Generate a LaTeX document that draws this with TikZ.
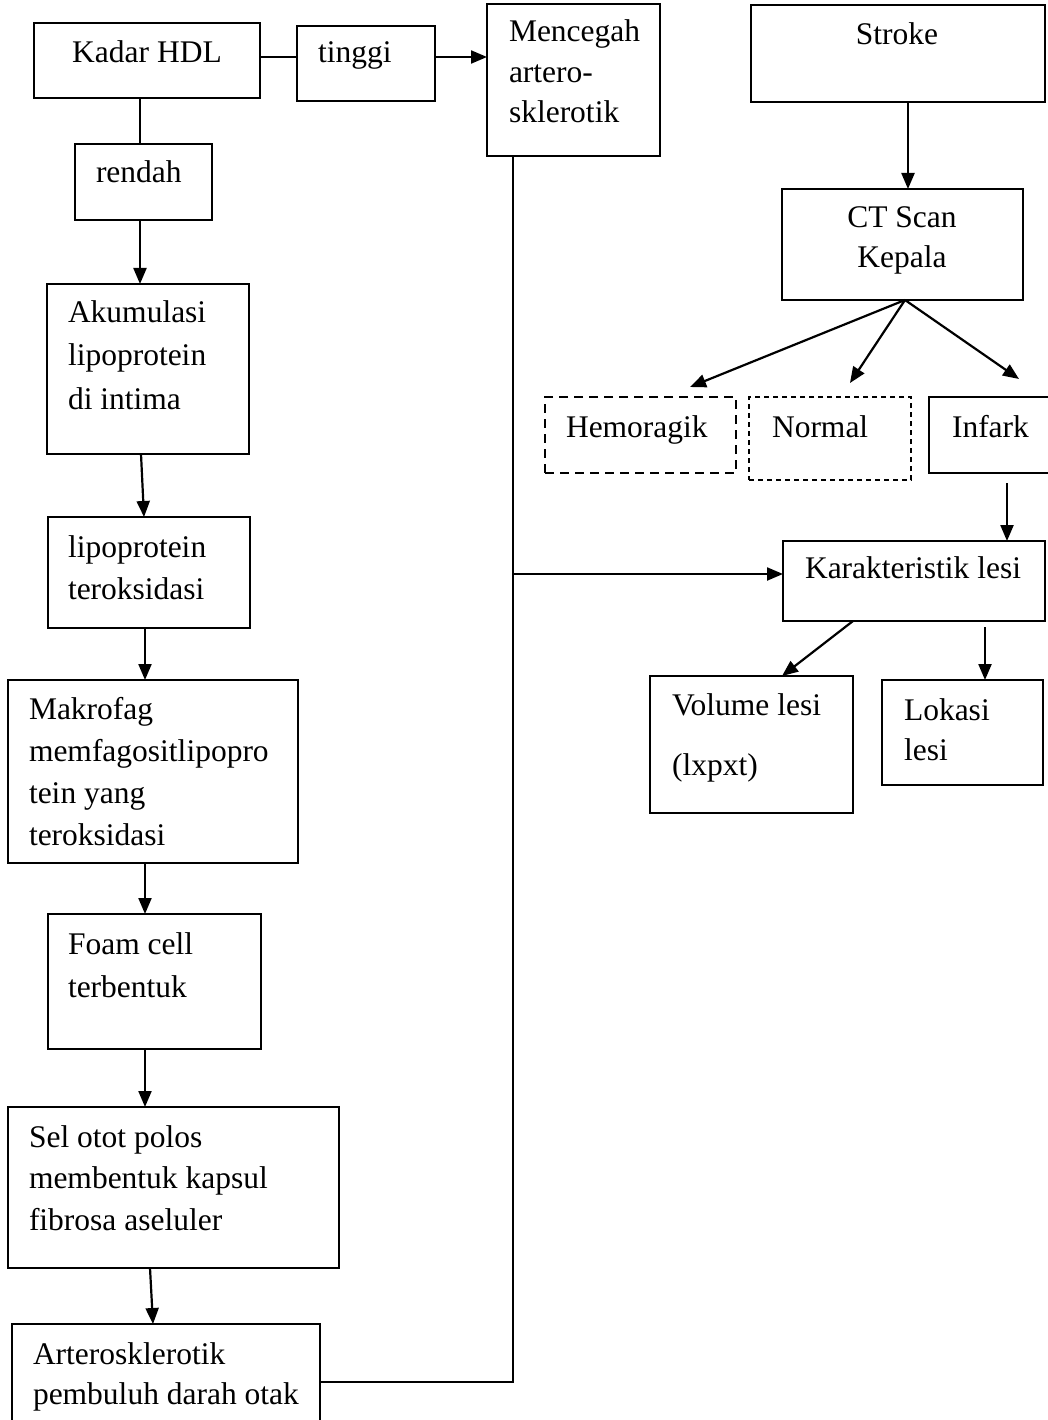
\documentclass[tikz,border=0pt]{standalone}
\usepackage{fontspec}
\setmainfont{Liberation Serif}
\usetikzlibrary{arrows.meta}
\newcommand\tl[2][42]{{\fontsize{31.5}{#1}\selectfont\begin{tabular}[t]{@{}l@{}}#2\end{tabular}}}
\newcommand\tcn[2][40]{{\fontsize{31.5}{#1}\selectfont\begin{tabular}[t]{@{}c@{}}#2\end{tabular}}}
\newcommand\boxat[6]{\node[box,#6,anchor=north west,minimum width={(#4-#2)*1pt},minimum height={(#5-#3)*1pt}] (#1) at (#2,#3) {};}
\tikzset{
  box/.style={draw,line width=1.8pt,inner sep=0pt,outer sep=0pt,rectangle},
  dashA/.style={dash pattern=on 9pt off 6pt},
  dashB/.style={dash pattern=on 5pt off 4pt,line width=1.6pt},
  txt/.style={inner sep=0pt,outer sep=0pt},
  ln/.style={line width=1.6pt},
  arr/.style={line width=2.2pt,-{Triangle[length=16pt,width=13pt]}}
}
\begin{document}
\begin{tikzpicture}[x=1pt,y=-1pt]
\fill[white] (0,0) rectangle (1048,1420);
\useasboundingbox (0,0) rectangle (1048,1420);
% boxes
\boxat{hdl}{34}{23}{260}{98}{}
\boxat{tinggi}{297}{26}{435}{101}{}
\boxat{rendah}{75}{144}{212}{220}{}
\boxat{mencegah}{487}{4}{660}{156}{}
\boxat{stroke}{751}{5}{1045}{102}{}
\boxat{ct}{782}{189}{1023}{300}{}
\boxat{hemo}{545}{397}{736}{473}{dashA}
\boxat{normal}{749}{397}{911}{480}{dashB}
\boxat{infark}{929}{397}{1060}{473}{}
\boxat{karak}{783}{541}{1045}{621}{}
\boxat{volume}{650}{676}{853}{813}{}
\boxat{lokasi}{882}{680}{1043}{785}{}
\boxat{akum}{47}{284}{249}{454}{}
\boxat{lipo}{48}{517}{250}{628}{}
\boxat{makro}{8}{680}{298}{863}{}
\boxat{foam}{48}{914}{261}{1049}{}
\boxat{sel}{8}{1107}{339}{1268}{}
\boxat{artero}{12}{1324}{320}{1450}{}
% texts
\node[txt,anchor=base] (hdlT) at (147,63) {\tcn{Kadar HDL}};
\node[txt,anchor=base west] (tinggiT) at (318,63) {\tl{tinggi}};
\node[txt,anchor=base west] (rendahT) at (96,183) {\tl{rendah}};
\node[txt,anchor=base west] (mencegahT) at (509,42) {\tl[40.5]{Mencegah\\artero-\\sklerotik}};
\node[txt,anchor=base] (strokeT) at (897,45) {\tcn{Stroke}};
\node[txt,anchor=base] (ctT) at (902,228) {\tcn{CT Scan\\Kepala}};
\node[txt,anchor=base west] (hemoT) at (566,437) {\tl{Hemoragik}};
\node[txt,anchor=base west] (normalT) at (772,437) {\tl{Normal}};
\node[txt,anchor=base west] (infarkT) at (952,437) {\tl{Infark}};
\node[txt,anchor=base west] (karakT) at (805,578) {\tl{Karakteristik lesi}};
\node[txt,anchor=base west] (volumeT) at (672,715) {\tl[60]{Volume lesi\\(lxpxt)}};
\node[txt,anchor=base west] (lokasiT) at (904,720) {\tl[40]{Lokasi\\lesi}};
\node[txt,anchor=base west] (akumT) at (68,323) {\tl[43]{Akumulasi\\lipoprotein\\di intima}};
\node[txt,anchor=base west] (lipoT) at (68,557) {\tl[42]{lipoprotein\\teroksidasi}};
\node[txt,anchor=base west] (makroT) at (29,719) {\tl[42]{Makrofag\\memfagositlipopro\\tein yang\\teroksidasi}};
\node[txt,anchor=base west] (foamT) at (68,954) {\tl[43]{Foam cell\\terbentuk}};
\node[txt,anchor=base west] (selT) at (29,1147) {\tl[41.5]{Sel otot polos\\membentuk kapsul\\fibrosa aseluler}};
\node[txt,anchor=base west] (arteroT) at (33,1364) {\tl[40]{Arterosklerotik\\pembuluh darah otak}};
% helper coordinates
\coordinate (y57) at (0,57);
\coordinate (x140) at (140,0);
\coordinate (xa1) at (141,0);
\coordinate (xa2) at (144,0);
\coordinate (x145) at (145,0);
\coordinate (xs1) at (150,0);
\coordinate (xs2) at (153,0);
\coordinate (x908) at (908,0);
\coordinate (x905) at (905,0);
\coordinate (th) at (690,387);
\coordinate (tn) at (850,383);
\coordinate (ti) at (1019,379);
\coordinate (ik) at (1007,483);
\coordinate (kv1) at (853,0);
\coordinate (kv2) at (782,0);
\coordinate (kl) at (985,627);
\coordinate (j1) at (513,1382);
\coordinate (j2) at (513,574);
% connectors
\draw[ln] (hdl.east |- y57) -- (tinggi.west |- y57);
\draw[arr] (tinggi.east |- y57) -- (mencegah.west |- y57);
\draw[ln] (hdl.south -| x140) -- (rendah.north -| x140);
\draw[arr] (rendah.south -| x140) -- (akum.north -| x140);
\draw[arr] (akum.south -| xa1) -- (lipo.north -| xa2);
\draw[arr] (lipo.south -| x145) -- (makro.north -| x145);
\draw[arr] (makro.south -| x145) -- (foam.north -| x145);
\draw[arr] (foam.south -| x145) -- (sel.north -| x145);
\draw[arr] (sel.south -| xs1) -- (artero.north -| xs2);
\draw[ln] (mencegah.south -| j1) -- (j1) -- (artero.east |- j1);
\draw[arr] (j2) -- (karak.west |- j2);
\draw[arr] (stroke.south -| x908) -- (ct.north -| x908);
\draw[arr] (ct.south -| x905) -- (th);
\draw[arr] (ct.south -| x905) -- (tn);
\draw[arr] (ct.south -| x905) -- (ti);
\draw[arr] (ik) -- (karak.north -| ik);
\draw[arr] (karak.south -| kv1) -- (volume.north -| kv2);
\draw[arr] (kl) -- (lokasi.north -| kl);
\end{tikzpicture}
\end{document}
